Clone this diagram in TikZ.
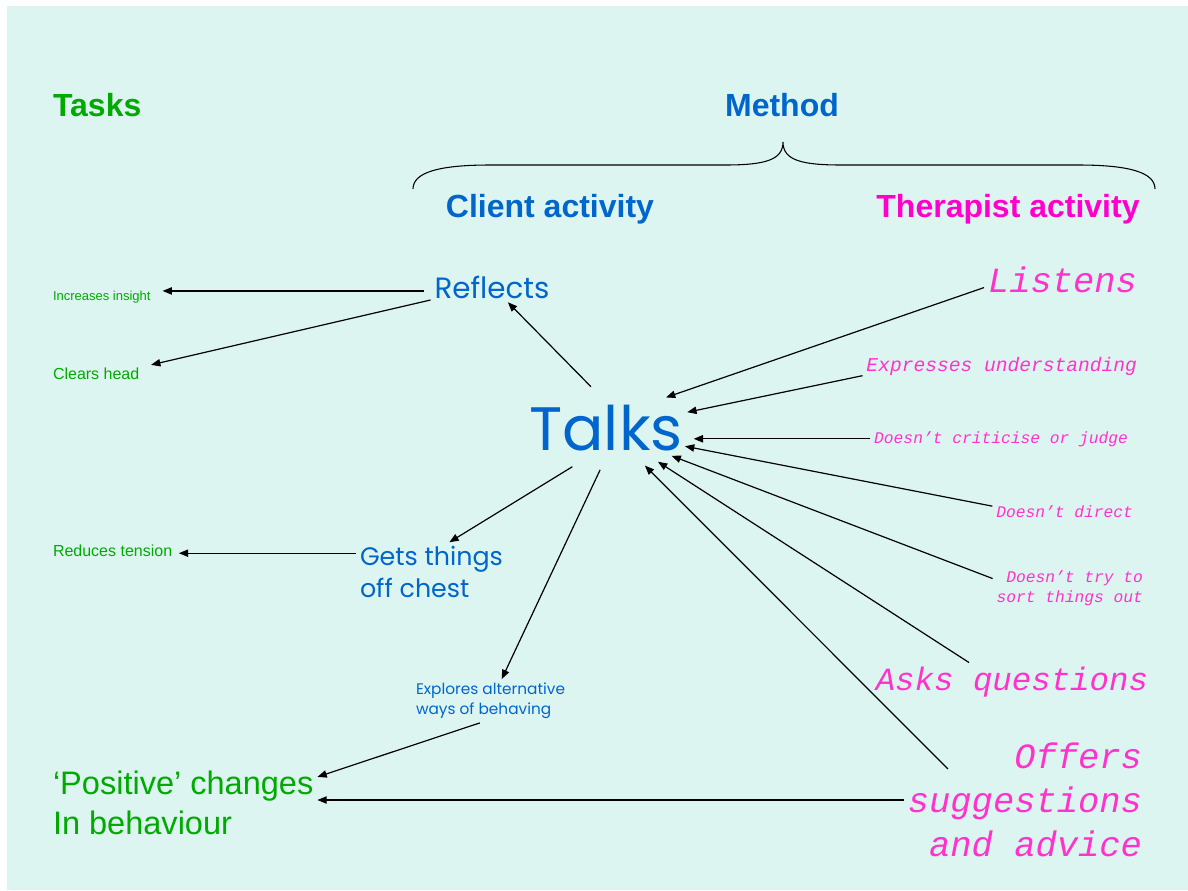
\documentclass[tikz,border=0pt]{standalone}
\usepackage{fontspec}
\setmainfont{Liberation Sans}
\newfontfamily\comicfont{Poppins}
\newfontfamily\typefont{Liberation Mono}
\usetikzlibrary{arrows.meta,shapes.geometric}
\definecolor{bgmint}{RGB}{221,245,241}
\definecolor{taskgreen}{RGB}{0,170,0}
\definecolor{clientblue}{RGB}{0,102,204}
\definecolor{therapink}{RGB}{255,0,204}
\definecolor{itempink}{RGB}{255,51,204}
\begin{document}
\begin{tikzpicture}[x=0.75pt,y=-0.75pt,
    every node/.style={inner sep=3pt,outer sep=0pt},
    heading/.style={font=\bfseries\fontsize{24}{29}\selectfont},
    task/.style={text=taskgreen,anchor=base west},
    client/.style={text=clientblue,align=left},
    therapist/.style={text=itempink,align=right},
    arr/.style={-{Triangle[length=7pt,width=5.5pt]},line width=0.9pt}]
  \useasboundingbox (0,0) rectangle (1188,890);
  \fill[white] (0,0) rectangle (1188,890);
  \fill[bgmint] (7,6) rectangle (1188,890);

  % headings
  \node[heading,text=taskgreen,anchor=base west] (tasks) at (49,116) {Tasks};
  \node[heading,text=clientblue,anchor=base] (method) at (782,116) {Method};
  \node[heading,text=clientblue,anchor=base] (clientact) at (550,217) {Client activity};
  \node[heading,text=therapink,anchor=base] (therapistact) at (1008,217) {Therapist activity};
  \draw[line width=0.8pt] (413,189) .. controls (413,172) and (440,165) .. (490,165)
    -- (725,165) .. controls (765,165) and (783,160) .. (783,142)
    .. controls (783,160) and (801,165) .. (841,165)
    -- (1078,165) .. controls (1128,165) and (1155,172) .. (1155,189);

  % client side
  \node[client,font=\comicfont\fontsize{46}{50}\selectfont,shape=ellipse,
    inner xsep=-11pt,inner ysep=5pt] (talks) at (606,428) {Talks};
  \node[client,font=\comicfont\fontsize{22}{26}\selectfont,anchor=base] (reflects) at (492,298) {Reflects};
  \node[client,font=\comicfont\fontsize{19}{24}\selectfont,anchor=west] (gets) at (356,572) {Gets things\\off chest};
  \node[client,font=\comicfont\fontsize{11.5}{15}\selectfont,anchor=west] (explores) at (412,701) {Explores alternative\\ways of behaving};

  % tasks
  \node[task,font=\fontsize{9.75}{12}\selectfont] (insight) at (49,300) {Increases insight};
  \node[task,font=\fontsize{12}{14}\selectfont] (clears) at (49,379) {Clears head};
  \node[task,font=\fontsize{12}{14}\selectfont] (tension) at (49,556) {Reduces tension};
  \node[task,font=\fontsize{24.4}{30}\selectfont,anchor=west,align=left] (positive) at (49,803) {`Positive' changes\\In behaviour};

  % therapist side
  \node[therapist,font=\typefont\itshape\fontsize{26.6}{33}\selectfont,anchor=base east] (listens) at (1141,292) {Listens};
  \node[therapist,font=\typefont\itshape\fontsize{14.7}{17}\selectfont,anchor=base east] (expresses) at (1141,371) {Expresses understanding};
  \node[therapist,font=\typefont\itshape\fontsize{12.2}{15}\selectfont,anchor=base east] (criticise) at (1132,443) {Doesn’t criticise or judge};
  \node[therapist,font=\typefont\itshape\fontsize{12.2}{15}\selectfont,anchor=base east] (direct) at (1137,517) {Doesn’t direct};
  \node[therapist,font=\typefont\itshape\fontsize{12.2}{15}\selectfont,anchor=east] (trysort) at (1147,588) {Doesn’t try to\\sort things out};
  \node[therapist,font=\typefont\itshape\fontsize{24.3}{30}\selectfont,anchor=base east] (asks) at (1152,690) {Asks questions};
  \node[therapist,font=\typefont\itshape\fontsize{26.6}{33}\selectfont,anchor=east] (offers) at (1146,800) {Offers\\suggestions\\and advice};

  % arrows
  \draw[arr,shorten <=5pt,shorten >=6pt] ([yshift=-3pt]reflects.west) -- ([yshift=-3pt]reflects.west -| insight.east);
  \draw[arr,shorten >=6pt] (reflects.192) -- (clears.8);
  \draw[arr] (talks.110) -- (reflects.-44);
  \draw[arr] (talks.229) -- (gets.59);
  \draw[arr] (talks.262) -- (explores.63);
  \draw[arr,shorten >=2pt] (gets.166) -- (gets.166 -| tension.east);
  \draw[arr] (explores.244) -- (positive.11);
  \draw[arr] (offers.west) -- (offers.west -| positive.east);
  \draw[arr] (listens.186) -- (talks.27);
  \draw[arr] (expresses.184) -- (talks.11);
  \draw[arr] (criticise.west) -- (criticise.west -| talks.east);
  \draw[arr] (direct.176) -- (talks.-13);
  \draw[arr] (trysort.173) -- (talks.-23);
  \draw[arr] (asks.156) -- (talks.-33);
  \draw[arr] ([shift={(44,30)}]offers.north west) -- (talks.-44);
\end{tikzpicture}
\end{document}
